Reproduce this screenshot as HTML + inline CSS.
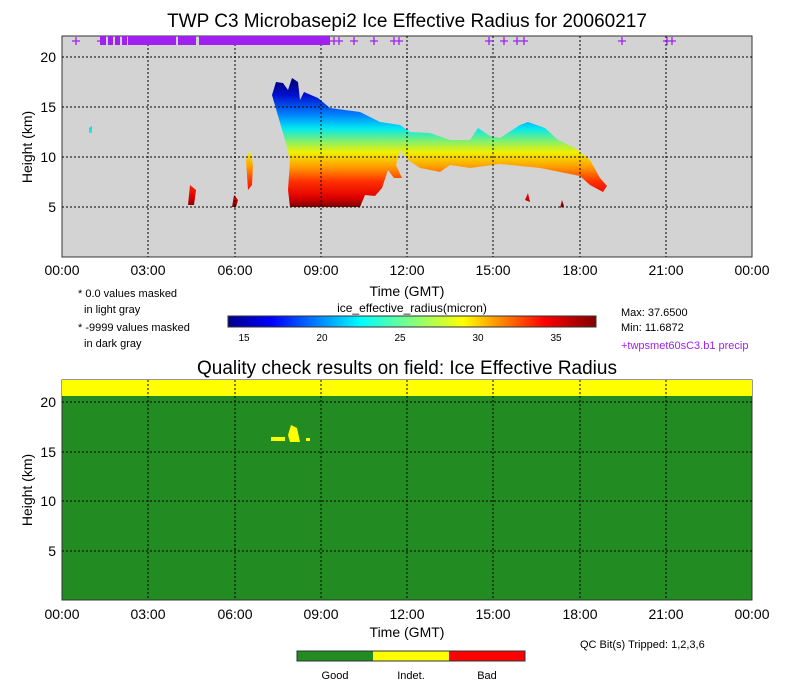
<!DOCTYPE html>
<html><head><style>
body{margin:0;background:#fff;}
svg{display:block;font-family:"Liberation Sans",sans-serif;}
</style></head><body>
<svg width="786" height="688" viewBox="0 0 786 688" xmlns="http://www.w3.org/2000/svg">
<defs>
<linearGradient id="cl" gradientUnits="userSpaceOnUse" x1="0" y1="80" x2="0" y2="207">
<stop offset="0" stop-color="#00007a"/>
<stop offset="0.12" stop-color="#0010d0"/>
<stop offset="0.27" stop-color="#0080ff"/>
<stop offset="0.38" stop-color="#00e8f0"/>
<stop offset="0.48" stop-color="#80f070"/>
<stop offset="0.57" stop-color="#f0f000"/>
<stop offset="0.68" stop-color="#ffa000"/>
<stop offset="0.8" stop-color="#ff3000"/>
<stop offset="0.92" stop-color="#e00000"/>
<stop offset="1" stop-color="#800000"/>
</linearGradient>
<linearGradient id="jet" x1="0" y1="0" x2="1" y2="0">
<stop offset="0" stop-color="#00008a"/>
<stop offset="0.12" stop-color="#0000ff"/>
<stop offset="0.36" stop-color="#00ffff"/>
<stop offset="0.5" stop-color="#80ff80"/>
<stop offset="0.64" stop-color="#ffff00"/>
<stop offset="0.86" stop-color="#ff0000"/>
<stop offset="1" stop-color="#800000"/>
</linearGradient>
</defs>
<text x="407" y="27" font-size="19" text-anchor="middle">TWP C3 Microbasepi2 Ice Effective Radius for 20060217</text>
<rect x="62" y="36" width="690" height="221" fill="#d3d3d3" stroke="#333" stroke-width="1"/>
<g fill="url(#cl)">
<polygon points="272,95 276,82 283,83 288,90 292,78 298,82 300,100 304,92 318,98 330,108 345,110 360,112 380,122 400,125 410,132 430,133 450,140 470,140 478,128 490,136 500,138 520,125 528,122 545,128 558,140 575,148 590,160 600,178 607,186 603,192 590,185 580,176 560,172 540,168 520,166 500,164 470,168 450,165 440,172 420,168 408,160 400,150 396,165 402,178 394,178 388,170 382,188 375,196 365,195 360,207 290,207 288,190 290,160 285,140"/>
<polygon points="246,160 250,150 253,165 252,185 248,190"/>
<polygon points="188,205 190,185 196,190 194,205"/>
<polygon points="232,207 234,195 238,200 236,207"/>
<polygon points="525,200 528,193 530,202"/>
<polygon points="560,208 562,200 564,206"/>
<polygon points="89,128 92,126 92,133 89,133"/>
</g>
<g stroke="#000" stroke-width="1" stroke-dasharray="2,2">
<line x1="62" y1="57" x2="752" y2="57"/><line x1="62" y1="107" x2="752" y2="107"/><line x1="62" y1="157" x2="752" y2="157"/><line x1="62" y1="207" x2="752" y2="207"/>
<line x1="148" y1="36" x2="148" y2="257"/><line x1="235" y1="36" x2="235" y2="257"/><line x1="321" y1="36" x2="321" y2="257"/><line x1="407" y1="36" x2="407" y2="257"/><line x1="493" y1="36" x2="493" y2="257"/><line x1="580" y1="36" x2="580" y2="257"/><line x1="666" y1="36" x2="666" y2="257"/>
</g>
<g fill="#a020f0">
<rect x="128" y="36" width="48" height="9"/><rect x="178" y="36" width="18" height="9"/><rect x="199" y="36" width="131" height="9"/>
<rect x="100" y="36" width="6" height="9"/><rect x="108" y="36" width="5" height="9"/><rect x="115" y="36" width="5" height="9"/><rect x="122" y="36" width="5" height="9"/>
</g>
<g fill="none" stroke="#a020f0" stroke-width="1.3">
<path d="M72,41h8M76,37v8M97,41h8M330,41h8M334,37v8M335,41h8M339,37v8M350,41h8M354,37v8M370,41h8M374,37v8M390,41h8M394,37v8M395,41h8M399,37v8M485,41h8M489,37v8M500,41h8M504,37v8M513,41h8M517,37v8M520,41h8M524,37v8M618,41h8M622,37v8M663,41h8M667,37v8M668,41h8M672,37v8"/>
</g>
<g font-size="14" text-anchor="end"><text x="56" y="62">20</text><text x="56" y="112">15</text><text x="56" y="162">10</text><text x="56" y="212">5</text></g>
<text transform="translate(32,147) rotate(-90)" font-size="14" text-anchor="middle">Height (km)</text>
<g font-size="14" text-anchor="middle"><text x="62" y="275">00:00</text><text x="148" y="275">03:00</text><text x="235" y="275">06:00</text><text x="321" y="275">09:00</text><text x="407" y="275">12:00</text><text x="493" y="275">15:00</text><text x="580" y="275">18:00</text><text x="666" y="275">21:00</text><text x="752" y="275">00:00</text>
<text x="407" y="296">Time (GMT)</text></g>
<g font-size="11"><text x="78" y="297">* 0.0 values masked</text><text x="84" y="313">in light gray</text><text x="78" y="331">* -9999 values masked</text><text x="84" y="347">in dark gray</text>
<text x="621" y="316">Max: 37.6500</text><text x="621" y="331">Min: 11.6872</text><text x="621" y="349" fill="#a020f0">+twpsmet60sC3.b1 precip</text></g>
<text x="412" y="312" font-size="12" text-anchor="middle">ice_effective_radius(micron)</text>
<rect x="228" y="316" width="368" height="11" fill="url(#jet)" stroke="#333"/>
<g font-size="10" text-anchor="middle"><text x="244" y="341">15</text><text x="322" y="341">20</text><text x="400" y="341">25</text><text x="478" y="341">30</text><text x="556" y="341">35</text></g>
<text x="407" y="374" font-size="19" text-anchor="middle">Quality check results on field: Ice Effective Radius</text>
<rect x="62" y="380" width="690" height="220" fill="#228b22" stroke="#333"/>
<rect x="62" y="380" width="690" height="16" fill="#ffff00"/>
<g fill="#ffff00"><polygon points="288,435 291,425 297,428 300,442 290,442"/><rect x="271" y="437" width="14" height="4"/><rect x="306" y="438" width="4" height="3"/></g>
<g stroke="#000" stroke-width="1" stroke-dasharray="2,2">
<line x1="62" y1="402" x2="752" y2="402"/><line x1="62" y1="452" x2="752" y2="452"/><line x1="62" y1="501" x2="752" y2="501"/><line x1="62" y1="551" x2="752" y2="551"/>
<line x1="148" y1="380" x2="148" y2="600"/><line x1="235" y1="380" x2="235" y2="600"/><line x1="321" y1="380" x2="321" y2="600"/><line x1="407" y1="380" x2="407" y2="600"/><line x1="493" y1="380" x2="493" y2="600"/><line x1="580" y1="380" x2="580" y2="600"/><line x1="666" y1="380" x2="666" y2="600"/>
</g>
<g font-size="14" text-anchor="end"><text x="56" y="407">20</text><text x="56" y="457">15</text><text x="56" y="506">10</text><text x="56" y="556">5</text></g>
<text transform="translate(32,490) rotate(-90)" font-size="14" text-anchor="middle">Height (km)</text>
<g font-size="14" text-anchor="middle"><text x="62" y="619">00:00</text><text x="148" y="619">03:00</text><text x="235" y="619">06:00</text><text x="321" y="619">09:00</text><text x="407" y="619">12:00</text><text x="493" y="619">15:00</text><text x="580" y="619">18:00</text><text x="666" y="619">21:00</text><text x="752" y="619">00:00</text>
<text x="407" y="637">Time (GMT)</text></g>
<text x="580" y="648" font-size="11">QC Bit(s) Tripped: 1,2,3,6</text>
<rect x="297" y="651" width="76" height="10" fill="#228b22"/><rect x="373" y="651" width="76" height="10" fill="#ffff00"/><rect x="449" y="651" width="76" height="10" fill="#ff0000"/>
<rect x="297" y="651" width="228" height="10" fill="none" stroke="#333"/>
<g font-size="11" text-anchor="middle"><text x="335" y="679">Good</text><text x="411" y="679">Indet.</text><text x="487" y="679">Bad</text></g>
</svg>
</body></html>
